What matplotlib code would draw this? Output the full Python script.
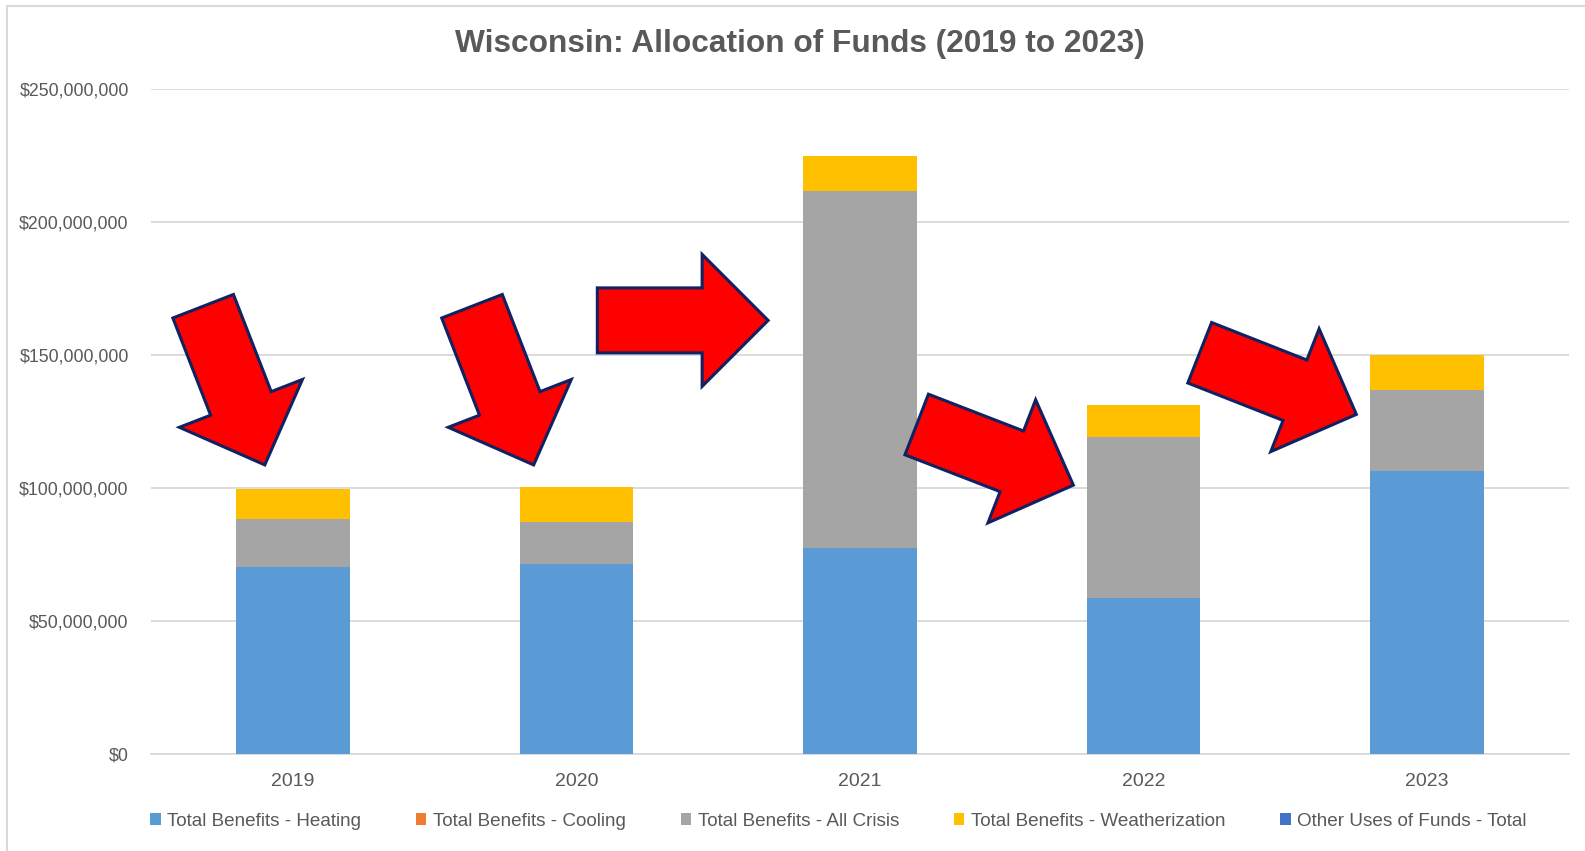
import numpy as np
import matplotlib
matplotlib.use("Agg")
import matplotlib.pyplot as plt
from matplotlib.patches import Polygon, Rectangle
from matplotlib.ticker import FuncFormatter

plt.rcParams['font.family'] = ['Liberation Sans', 'DejaVu Sans']

years = ['2019', '2020', '2021', '2022', '2023']
heating = [70.4e6, 71.4e6, 77.6e6, 58.6e6, 106.5e6]
cooling = [0, 0, 0, 0, 0]
crisis = [18.0e6, 16.0e6, 134.1e6, 60.6e6, 30.4e6]
weather = [11.3e6, 12.9e6, 13.0e6, 11.9e6, 13.0e6]
other = [0, 0, 0, 0, 0]

series = [
    ('Total Benefits - Heating', heating, '#5B9BD5'),
    ('Total Benefits - Cooling', cooling, '#ED7D31'),
    ('Total Benefits - All Crisis', crisis, '#A5A5A5'),
    ('Total Benefits - Weatherization', weather, '#FFC000'),
    ('Other Uses of Funds - Total', other, '#4472C4'),
]

W, H = 1585, 851
fig = plt.figure(figsize=(W / 100, H / 100), dpi=100)
fig.patch.set_facecolor('white')

# chart border (only top and left edges show in the reference)
fig.patches.append(Rectangle((7 / W, -0.05), 1.1, 1 - 6 / H + 0.05,
                             transform=fig.transFigure, fill=False,
                             edgecolor='#D9D9D9', linewidth=1.5))

ax = fig.add_axes([151 / W, 1 - 754 / H, (1569 - 151) / W, (754 - 89) / H])
x = np.arange(len(years))
bottom = np.zeros(len(years))
for name, vals, col in series:
    ax.bar(x, vals, 0.4, bottom=bottom, color=col, label=name, zorder=3)
    bottom += np.array(vals)

ax.set_xlim(-0.5, len(years) - 0.5)
ax.set_ylim(0, 250e6)
ax.set_yticks(np.arange(0, 250e6 + 1, 50e6))
ax.yaxis.set_major_formatter(FuncFormatter(lambda v, p: '${:,.0f}'.format(v)))
ax.set_xticks(x)
ax.set_xticklabels(years)
ax.grid(axis='y', color='#D9D9D9', linewidth=1.3, zorder=0)
for s in ['top', 'right', 'left']:
    ax.spines[s].set_visible(False)
ax.spines['bottom'].set_color('#D9D9D9')
ax.spines['bottom'].set_linewidth(1.3)
ax.tick_params(axis='both', length=0, labelcolor='#595959')
ax.tick_params(axis='y', pad=16, labelsize=12.8)
ax.tick_params(axis='x', pad=14, labelsize=14)

fig.text(791 * 1.0107 / W, 1 - 44 * 1.0107 / H, 'Wisconsin: Allocation of Funds (2019 to 2023)',
         ha='center', va='center', fontsize=22.8, fontweight='bold', color='#595959')

fig.legend(loc='center', bbox_to_anchor=(0.529, 1 - 821 / H), ncol=5, frameon=False,
           fontsize=13.6, labelcolor='#595959', handlelength=0.55, handleheight=0.6,
           handletextpad=0.35, columnspacing=2.9)

# red arrow callouts: (tail centre x, y, tip x, y) in reference pixels
arrow_tails = [(201, 303), (467, 303), (591, 317), (907, 420), (1187, 349)]
arrow_tips = [(262, 460), (528, 460), (760, 317), (1062, 480), (1342, 410)]
shaft_w, head_w, head_l = 65, 132, 66

for (tx, ty), (px, py) in zip(arrow_tails, arrow_tips):
    tx, ty, px, py = [v * 1.0107 for v in (tx, ty, px, py)]
    d = np.array([px - tx, py - ty])
    L = np.hypot(*d)
    u = d / L
    n = np.array([-u[1], u[0]])
    t = np.array([tx, ty])
    b = t + u * (L - head_l)
    pts = [t + n * shaft_w / 2, b + n * shaft_w / 2, b + n * head_w / 2,
           np.array([px, py]), b - n * head_w / 2, b - n * shaft_w / 2,
           t - n * shaft_w / 2]
    pts = [(p[0] / W, 1 - p[1] / H) for p in pts]
    fig.patches.append(Polygon(pts, closed=True, transform=fig.transFigure,
                               facecolor='#FF0000', edgecolor='#0F2262',
                               linewidth=2.2, joinstyle='miter', zorder=10))

fig.savefig('out.png', dpi=100)
